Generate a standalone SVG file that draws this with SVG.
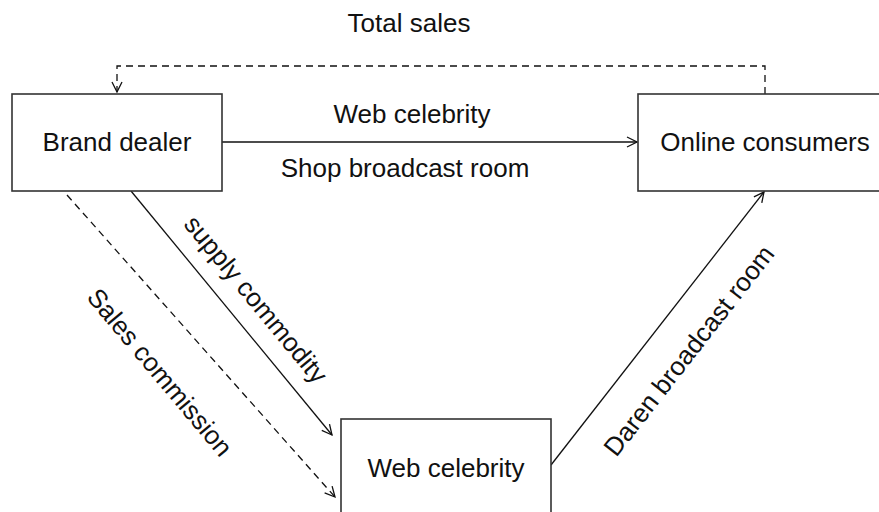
<svg xmlns="http://www.w3.org/2000/svg" width="879" height="512" viewBox="0 0 879 512">
<defs>
<style>
text{font-family:"Liberation Sans",Arial,sans-serif;font-size:26px;fill:#111;text-anchor:middle}
.box{fill:#fff;stroke:#333;stroke-width:1.6}
.ln{fill:none;stroke:#111;stroke-width:1.3}
.dash{stroke-dasharray:7 5}
</style>
<marker id="arr" viewBox="0 0 12 12" refX="11" refY="6" markerWidth="12" markerHeight="12" markerUnits="userSpaceOnUse" orient="auto">
<path d="M1,1 L11,6 L1,11" fill="none" stroke="#111" stroke-width="1.3"/>
</marker>
</defs>
<rect width="879" height="512" fill="#fff"/>
<g id="connectors">
<path class="ln dash" d="M765,94 V66 H117 V92" marker-end="url(#arr)"/>
<path class="ln" d="M222,142 H637" marker-end="url(#arr)"/>
<path class="ln" d="M131,191 L332,435" marker-end="url(#arr)"/>
<path class="ln dash" d="M67,195 L335,497" marker-end="url(#arr)"/>
<path class="ln" d="M551,465 L764,192" marker-end="url(#arr)"/>
<text x="409" y="32">Total sales</text>
<text x="412" y="123">Web celebrity</text>
<text x="405" y="177">Shop broadcast room</text>
<text transform="translate(249,305) rotate(50.5)">supply commodity</text>
<text transform="translate(153,378) rotate(50)">Sales commission</text>
<text transform="translate(696,356) rotate(-52)">Daren broadcast room</text>
</g>
<g id="brand-dealer">
<rect class="box" x="12" y="94" width="210" height="97"/>
<text x="117" y="151">Brand dealer</text>
</g>
<g id="online-consumers">
<rect class="box" x="638" y="94" width="255" height="97"/>
<text x="765" y="151">Online consumers</text>
</g>
<g id="web-celebrity">
<rect class="box" x="341" y="419" width="210" height="110"/>
<text x="446" y="477">Web celebrity</text>
</g>
</svg>
